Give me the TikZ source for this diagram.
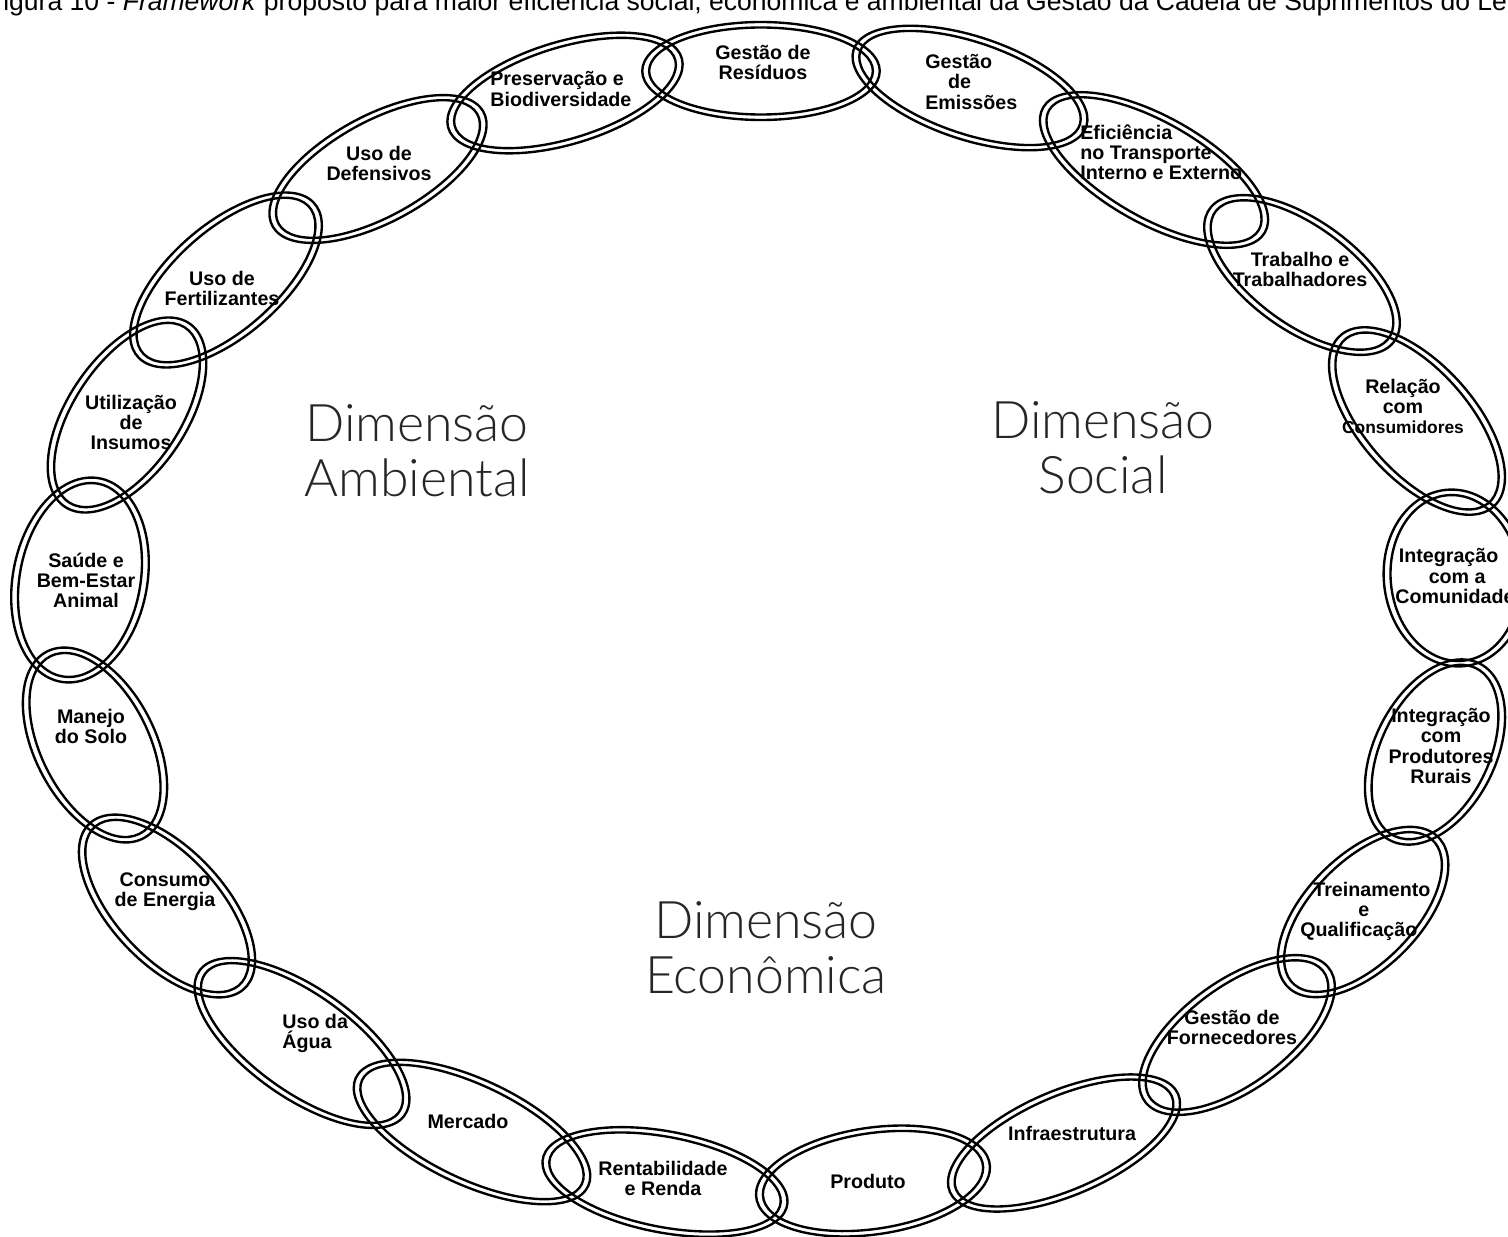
\documentclass[tikz,border=0pt]{standalone}
\usepackage{fontspec}
\setmainfont{Liberation Sans}
\IfFontExistsTF{Lato Light}{\newfontfamily\dimfont{Lato Light}}{\newfontfamily\dimfont{Lato}}
\begin{document}
\begin{tikzpicture}[x=0.02cm,y=-0.02cm,
  ringline/.style={line width=1.35pt, draw=black},
  lbl/.style={font=\fontsize{11.2}{11.4}\selectfont\bfseries, align=center, inner sep=0pt},
  lbll/.style={lbl, align=left, anchor=west},
  dimlbl/.style={font=\dimfont\fontsize{29.5}{31.2}\selectfont, align=center, inner sep=0pt, text=black!85},
  caplbl/.style={font=\fontsize{15.1}{18}\selectfont, anchor=base west, inner sep=0pt}]
\useasboundingbox (0,0) rectangle (1508,1237);
\clip (0,0) rectangle (1508,1237);
% double-line rings: centre x, centre y, angle, semi-axes (before horizontal stretch)
\foreach \cx/\cy/\ph/\A/\B in {
  761/71/0/95/49,
  970/88/-25/101/50,
  1154/170/-38/109/50,
  1302/275/-46/100/50,
  1417/421/-58/106/50,
  1455/578/93/88.5/57,
  1435/752/72/96/50,
  1363/912/56/97/50,
  1237/1035/46/100/50,
  1064/1143/31/104/50,
  873/1181/12/95/53,
  665/1182/-15/100.6/50,
  472/1132/-33/108/50,
  302/1043/-44.5/110/50,
  167/906/-57/104/50,
  95/745/-71/101.6/50,
  80/580/83/103/54,
  127/415/65/105/50,
  226/280/51/105/50,
  378/169/37.5/102.5/50,
  565/93/23/100/50}{
  \pgfmathsetmacro{\Ai}{\A-5.5}
  \pgfmathsetmacro{\Bi}{\B-5.5}
  \draw[ringline, shift={(\cx,\cy)}, xscale=1.25, rotate=\ph] (0,0) ellipse [x radius=\A, y radius=\B];
  \draw[ringline, shift={(\cx,\cy)}, xscale=1.25, rotate=\ph] (0,0) ellipse [x radius=\Ai, y radius=\Bi];
}
% caption (cut by the picture edge)
\node[caplbl] (cap) at (3,11) {igura 10 - \textit{Framework} proposto para maior eficiência social, econômica e ambiental da Gestão da Cadeia de Suprimentos do Le};
% labels
\node[lbl] (tRes) at (763,62) {Gestão de\\Resíduos};
\node[lbll] (tEmi) at (925,82) {Gestão\\\hspace*{13pt}de\\Emissões};
\node[lbll] (tEfi) at (1080,152) {Eficiência\\no Transporte\\Interno e Externo};
\node[lbl] (tTra) at (1300,269) {Trabalho e\\Trabalhadores};
\node[lbl] (tRel) at (1403,406) {Relação\\com\\{\fontsize{9.9}{11.4}\selectfont Consumidores}};
\node[lbll] (tCom) at (1395,576) {\hspace*{2pt}Integração\\\hspace*{19pt}com a\\Comunidade};
\node[lbl] (tPro) at (1441,746) {Integração\\com\\Produtores\\Rurais};
\node[lbll] (tTre) at (1300,911) {\hspace*{7.4pt}Treinamento\\\hspace*{33pt}e\\Qualificação};
\node[lbl] (tFor) at (1232,1027) {Gestão de\\Fornecedores};
\node[lbl] (tInf) at (1072,1133) {Infraestrutura};
\node[lbl] (tPrd) at (868,1181) {Produto};
\node[lbl] (tRen) at (663,1178) {Rentabilidade\\e Renda};
\node[lbl] (tMer) at (468,1121) {Mercado};
\node[lbll] (tAgu) at (282,1033) {Uso da\\Água};
\node[lbl] (tCon) at (165,892) {Consumo\\de Energia};
\node[lbl] (tMan) at (91,726) {Manejo\\do Solo};
\node[lbl] (tSau) at (86,580) {Saúde e\\Bem-Estar\\Animal};
\node[lbl] (tUti) at (131,422) {Utilização\\de\\Insumos};
\node[lbl] (tFer) at (222,288) {Uso de\\Fertilizantes};
\node[lbl] (tDef) at (379,163) {Uso de\\Defensivos};
\node[lbll] (tPre) at (490,89) {Preservação e\\Biodiversidade};
% dimensions
\node[dimlbl] (dAmb) at (417,451) {Dimensão\\Ambiental};
\node[dimlbl] (dSoc) at (1103,448) {Dimensão\\Social};
\node[dimlbl] (dEco) at (766,948) {Dimensão\\Econômica};
\end{tikzpicture}
\end{document}
